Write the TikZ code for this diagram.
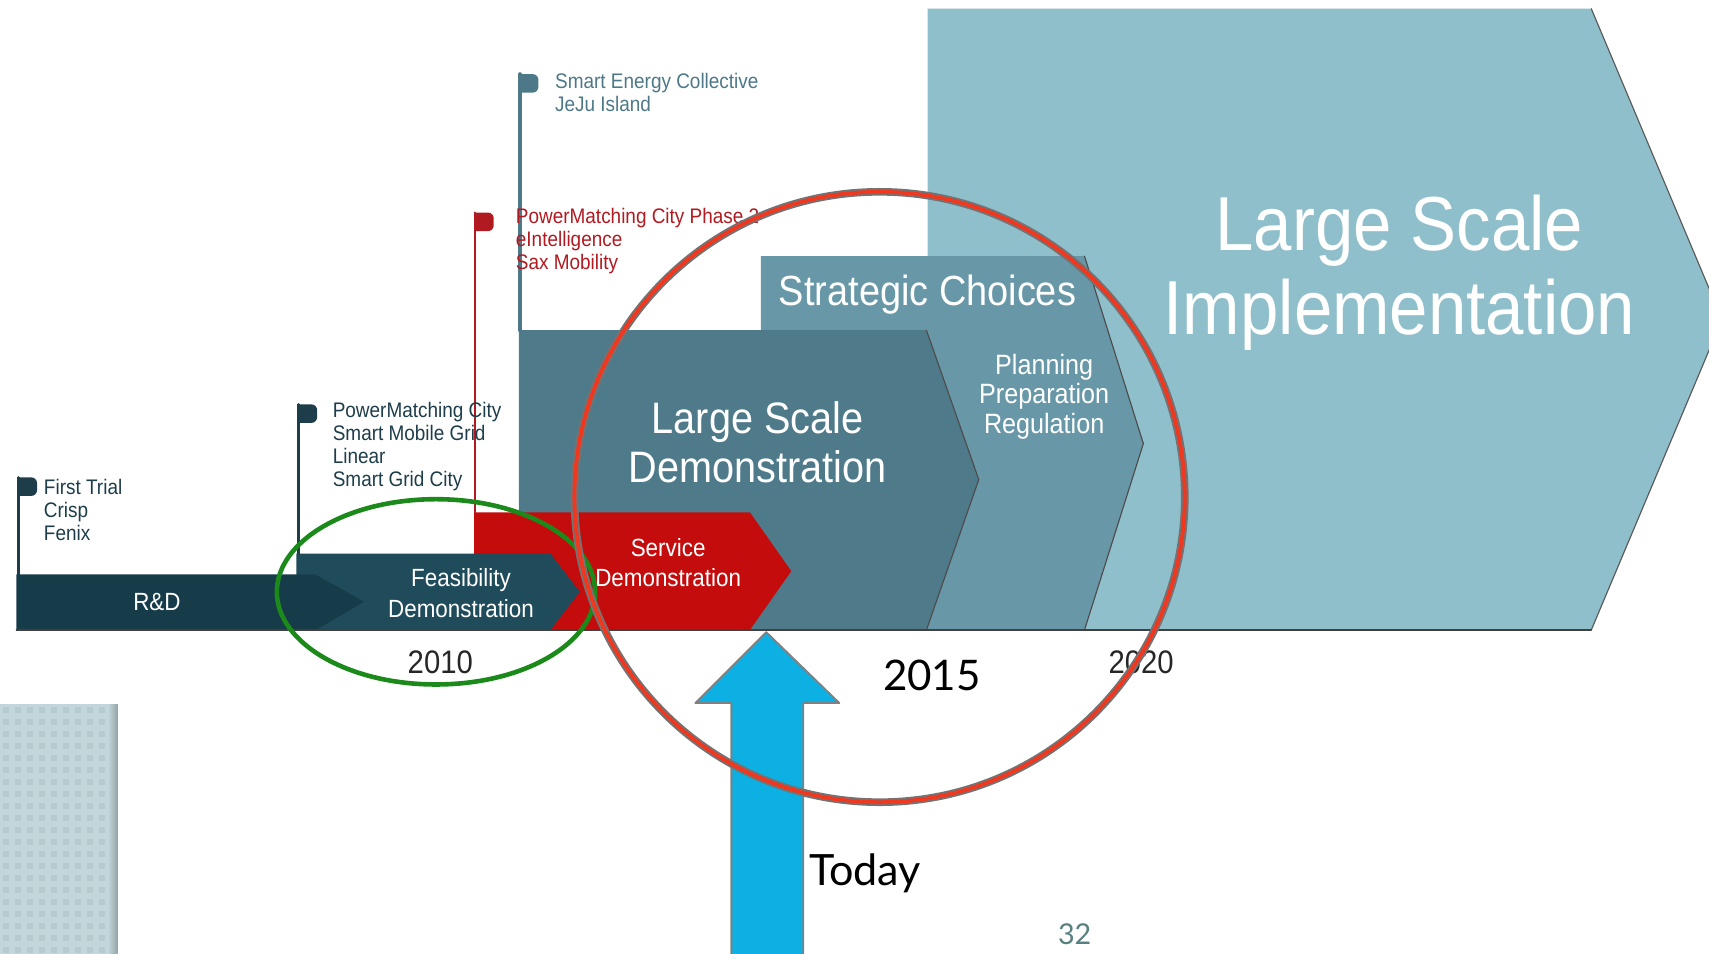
\documentclass[tikz,border=0pt]{standalone}
\usepackage{fontspec}
\setmainfont{Liberation Sans}[FakeStretch=0.9]
\newfontfamily\gill{Lato}
\newcommand\fsize[2]{\fontsize{#1}{#2}\selectfont}
\definecolor{rdark}{HTML}{163C4A}
\definecolor{feas}{HTML}{1F4B5A}
\definecolor{servred}{HTML}{C40C0C}
\definecolor{lsdemo}{HTML}{4E7A8A}
\definecolor{strat}{HTML}{6898A7}
\definecolor{lsimpl}{HTML}{90BFCC}
\definecolor{flagdark}{HTML}{1D3D4A}
\definecolor{flagred}{HTML}{B01A20}
\definecolor{flagteal}{HTML}{4D7888}
\definecolor{todayblue}{HTML}{0CB0E2}
\definecolor{ringred}{HTML}{F0371F}
\definecolor{ringgreen}{HTML}{1B8A1B}
\definecolor{tileA}{HTML}{C3D7DB}
\definecolor{tileB}{HTML}{B5CBD0}
\begin{document}
\begin{tikzpicture}[x=0.02cm, y=-0.02cm, line join=round, line cap=round,
	edge/.style={draw=#1, line width=0.6pt},
	bartext/.style={text=white, align=center, inner sep=0pt},
	flagtext/.style={anchor=west, align=left, inner sep=0pt, font=\fsize{11}{12}},
	year/.style={inner sep=0pt, text=black!85, font=\fsize{17}{20}}]
	\useasboundingbox (0,0) rectangle (1568,875);
	\clip (0,0) rectangle (1568,875);
	% tiled corner
	\fill[tileA] (0,646) rectangle (108,875);
	\foreach \i in {0,...,9}
		\foreach \j in {0,...,20}
			\fill[tileB] ({\i*11+3},{646+\j*11+3}) rectangle +(5,5);
	\shade[left color=tileA, right color=tileB!80!black] (99,646) rectangle (108,875);
	% phases, back to front
	\fill[lsimpl] (851,8) -- (1460,8) -- (1580,293) -- (1460,578) -- (851,578) -- cycle;
	\draw[edge=gray!70!black] (1460,8) -- (1580,293) -- (1460,578);
	\fill[strat] (698,235) -- (995,235) -- (1049,407) -- (995,578) -- (698,578) -- cycle;
	\draw[edge=black!70] (995,235) -- (1049,407) -- (995,578);
	\fill[lsdemo] (476,303) -- (850,303) -- (898,440) -- (850,578) -- (476,578) -- cycle;
	\draw[edge=black!70] (850,303) -- (898,440) -- (850,578);
	\fill[servred] (435,470) -- (688,470) -- (726,524) -- (688,578) -- (435,578) -- cycle;
	\fill[feas] (272,508) -- (505,508) -- (532,543) -- (505,578) -- (272,578) -- cycle;
	\fill[rdark] (15,527) -- (289,527) -- (334,552) -- (290,578) -- (15,578) -- cycle;
	\draw[black!75, line width=0.7pt] (15,578) -- (1460,578);
	% flags with poles
	\foreach \px/\py/\pb/\c/\w in {17/438/527/flagdark/1.3, 274/371/508/flagdark/1.3,
			436/195/470/flagred/1.1, 477/68/303/flagteal/2}{
		\draw[\c, line width=\w pt] (\px,\py) -- (\px,\pb);
		\fill[\c] (\px-1,\py) [rounded corners=3pt] -- (\px+17,\py) -- (\px+17,\py+17)
			[sharp corners] -- (\px-1,\py+17) -- cycle;
	}
	\node[flagtext, text=flagdark] (trial) at (40,468) {First Trial\\Crisp\\Fenix};
	\node[flagtext, text=flagdark] (pmc) at (305,410) {PowerMatching City\\Smart Mobile Grid\\Linear\\Smart Grid City};
	\node[flagtext, text=flagred] (pmc2) at (473,221) {PowerMatching City Phase 2\\eIntelligence\\Sax Mobility};
	\node[flagtext, text=flagteal] (sec) at (509,85) {Smart Energy Collective\\JeJu Island};
	% phase labels
	\node[bartext, font=\fsize{40}{44}] (impl) at (1284,250) {Large Scale\\Implementation};
	\node[bartext, font=\fsize{22}{26}] (choices) at (851,270) {Strategic Choices};
	\node[bartext, font=\fsize{14.6}{15.6}] (ppr) at (958,364) {Planning\\Preparation\\Regulation};
	\node[bartext, font=\fsize{23}{25.6}] (demo) at (695,406) {Large Scale\\Demonstration};
	\node[bartext, font=\fsize{13}{15.9}] (service) at (613,516) {Service\\Demonstration};
	\node[bartext, font=\fsize{13}{15.9}] (feasible) at (423,544) {Feasibility\\Demonstration};
	\node[bartext, font=\fsize{13}{15.9}] (rnd) at (144,552) {R\&D};
	% years
	\node[year] (y2010) at (404,608) {2010};
	\node[year] (y2020) at (1047,608) {2020};
	\node[inner sep=0pt, font=\gill\fsize{22}{26}] (y2015) at (855,620) {2015};
	% today arrow
	\filldraw[fill=todayblue, draw=gray, line width=1pt] (703,580) -- (770,645) -- (737,645) -- (737,880)
		-- (671,880) -- (671,645) -- (638,645) -- cycle;
	\node[anchor=west, inner sep=0pt, font=\gill\fsize{22.5}{26}] (today) at (742,801) {Today};
	\node[inner sep=0pt, text=gray!70!teal, font=\gill\fsize{15}{18}] (page) at (986,857) {32};
	% rings
	\draw[ringgreen, line width=2.4pt] (400,543) ellipse [x radius=146, y radius=85];
	\draw[gray!90!black, line width=4pt] (807,456) circle [radius=280];
	\draw[ringred, line width=2pt] (807,456) circle [radius=280];
\end{tikzpicture}
\end{document}
